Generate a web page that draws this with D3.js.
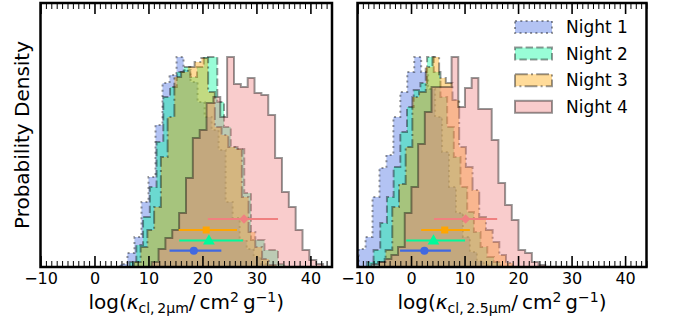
<!DOCTYPE html>
<html><head><meta charset="utf-8">
<script src="https://cdn.jsdelivr.net/npm/d3@7"></script>
<style>body{margin:0;background:#fff} text{font-family:"DejaVu Sans",sans-serif;fill:#000}</style>
</head><body><svg id="c" width="675" height="320"></svg>
<script>
// ---------------- data ----------------
const nights = ["Night 1", "Night 2", "Night 3", "Night 4"];
const fillColors = ["#4169e1", "#00fa9a", "#ffa500", "#f08080"];
const edgeDash = ["2,3.3", "7.4,3.2", "12.8,3.2,2,3.2", null];
const xTicks = [-10, 0, 10, 20, 30, 40];

// left panel: kappa at 2 micron  (bin start, bin width, densities)
const binStartL = [4.8, 6.5, 7.3, 10.6];
const binWidthL = [1.3, 1.25, 1.25, 1.27];
const densN1L = [0.015,0.07,0.15,0.325,0.45,0.71,0.92,0.96,1.05,0.985,0.925,0.825,0.75,0.685,0.585,0.325,0.245,0.135,0.09,0.05,0.015];
const densN2L = [0.025,0.11,0.25,0.4,0.625,0.85,0.9,0.975,1.0,0.95,1.0,1.05,1.05,0.825,0.7,0.6,0.59,0.37,0.135,0.135,0.085,0.085,0.015];
const densN3L = [0.025,0.1,0.185,0.3,0.55,0.75,0.95,0.975,1.0,1.025,1.045,0.875,0.7,0.66,0.6,0.59,0.35,0.175,0.1,0.04,0.01];
const densN4L = [0.025,0.09,0.145,0.185,0.27,0.445,0.645,0.685,0.82,0.85,0.75,1.05,0.915,0.9,0.945,0.87,0.86,0.76,0.545,0.375,0.3,0.185,0.085,0.035,0.015];

// right panel: kappa at 2.5 micron
const binStartR = [-9.8, -8.25, -6.0, -7.42];
const binWidthR = [1.3, 1.25, 1.25, 1.25];
const densN1R = [0.09,0.15,0.35,0.495,0.56,0.75,0.875,0.975,1.05,0.975,0.89,0.75,0.575,0.4,0.27,0.15,0.075,0.03,0.01];
const densN2R = [0.025,0.085,0.22,0.35,0.5,0.675,0.8,0.885,0.92,1.05,0.975,0.85,0.7,0.55,0.4,0.275,0.175,0.1,0.05,0.025];
const densN3R = [0.025,0.085,0.3,0.415,0.6,0.85,0.875,1.0,1.05,0.945,0.92,0.835,0.6,0.5,0.385,0.25,0.185,0.125,0.06,0.02];
const densN4R = [0.015,0.025,0.04,0.06,0.1,0.27,0.4,0.615,0.775,0.9,0.9,0.9,1.05,0.8,0.895,0.945,0.79,0.79,0.635,0.42,0.31,0.235,0.085,0.07,0.025,0.01];

// median and 16/84 percentile summaries
const medianL = [18.4, 21.2, 20.7, 27.7];
const lowL = [13.9, 15.7, 15.6, 21.0];
const highL = [23.5, 27.5, 26.4, 34.0];
const medianR = [2.5, 4.2, 6.3, 10.2];
const lowR = [-2.05, -0.9, 1.9, 4.3];
const highR = [7.45, 10.1, 11.0, 16.1];
const errLevel = [0.0815, 0.1325, 0.185, 0.24];
const markerTypes = [d3.symbolCircle, d3.symbolTriangle, d3.symbolSquare, d3.symbolSquare];

// ---------------- drawing ----------------
const svg = d3.select("#c");
const yTop = 3, yBottom = 267;
const y = d3.scaleLinear().domain([0, 1.32]).range([yBottom, yTop]);

const panels = [
  {x0: 40.5, x1: 332, starts: binStartL, widths: binWidthL, dens: [densN1L, densN2L, densN3L, densN4L],
   med: medianL, lo: lowL, hi: highL, sub: "cl,\u20092\u03bcm", legend: false, id: "L"},
  {x0: 357.5, x1: 646.5, starts: binStartR, widths: binWidthR, dens: [densN1R, densN2R, densN3R, densN4R],
   med: medianR, lo: lowR, hi: highR, sub: "cl,\u20092.5\u03bcm", legend: true, id: "R"}
];

panels.forEach(p => {
  const x = d3.scaleLinear().domain([-10, 44]).range([p.x0, p.x1]);
  svg.append("clipPath").attr("id", "clip" + p.id)
    .append("rect").attr("x", p.x0).attr("y", yTop).attr("width", p.x1 - p.x0).attr("height", yBottom - yTop);
  const g = svg.append("g").attr("clip-path", `url(#clip${p.id})`);
  const line = d3.line().x(d => x(d[0])).y(d => y(d[1]));

  p.dens.forEach((dens, i) => {
    const s = p.starts[i], w = p.widths[i];
    const pts = [[s, 0]];
    dens.forEach((v, k) => { pts.push([s + k * w, v]); pts.push([s + (k + 1) * w, v]); });
    pts.push([s + dens.length * w, 0]);
    g.append("path").attr("d", line(pts) + "Z")
      .attr("fill", fillColors[i]).attr("fill-opacity", 0.4)
      .attr("stroke", "#000").attr("stroke-opacity", 0.4).attr("stroke-width", 2)
      .attr("stroke-dasharray", edgeDash[i]).attr("stroke-linejoin", "miter");
  });

  // error bars
  const sizes = [52, 60, 50, 44];
  nights.forEach((n, i) => {
    g.append("line").attr("x1", x(p.lo[i])).attr("x2", x(p.hi[i]))
      .attr("y1", y(errLevel[i])).attr("y2", y(errLevel[i]))
      .attr("stroke", fillColors[i]).attr("stroke-width", 2.2);
    g.append("path").attr("d", d3.symbol().type(markerTypes[i]).size(sizes[i])())
      .attr("transform", `translate(${x(p.med[i])},${y(errLevel[i]) + (i === 1 ? 0.6 : 0)})` + (i === 3 ? " rotate(45)" : ""))
      .attr("fill", fillColors[i]);
  });

  // ticks
  const minor = d3.range(-10, 45, 1).filter(v => v % 10 !== 0);
  const axB = svg.append("g").attr("transform", `translate(0,${yBottom})`)
    .call(d3.axisBottom(x).tickValues(xTicks).tickSizeInner(-11).tickSizeOuter(0).tickPadding(6)
      .tickFormat(d => d < 0 ? "\u2212" + Math.abs(d) : d));
  axB.selectAll("text").style("font-size", "16px").style("font-family", "DejaVu Sans");
  axB.selectAll(".tick line").attr("stroke-width", 1.6);
  svg.append("g").attr("transform", `translate(0,${yBottom})`)
    .call(d3.axisBottom(x).tickValues(minor).tickSizeInner(-6).tickSizeOuter(0).tickFormat(""));
  svg.append("g").attr("transform", `translate(0,${yTop})`)
    .call(d3.axisTop(x).tickValues(xTicks).tickSizeInner(-11).tickSizeOuter(0).tickFormat(""))
    .selectAll(".tick line").attr("stroke-width", 1.6);
  svg.append("g").attr("transform", `translate(0,${yTop})`)
    .call(d3.axisTop(x).tickValues(minor).tickSizeInner(-6).tickSizeOuter(0).tickFormat(""));
  svg.selectAll(".domain").remove();
  svg.selectAll(".tick line").attr("stroke", "#000");

  // frame
  svg.append("rect").attr("x", p.x0).attr("y", yTop).attr("width", p.x1 - p.x0).attr("height", yBottom - yTop)
    .attr("fill", "none").attr("stroke", "#000").attr("stroke-width", 2.5);

  // x label
  const cx = (p.x0 + p.x1) / 2;
  const t = svg.append("text").attr("x", cx).attr("y", 309).attr("text-anchor", "middle").style("font-size", "20px");
  t.append("tspan").text("log(");
  t.append("tspan").style("font-style", "italic").text("\u03ba");
  t.append("tspan").attr("dy", 4).style("font-size", "14px").text(p.sub);
  t.append("tspan").attr("dy", -4).text("/\u2009cm");
  t.append("tspan").attr("dy", -7).style("font-size", "14px").text("2");
  t.append("tspan").attr("dy", 7).text("\u2009g");
  t.append("tspan").attr("dy", -7).style("font-size", "14px").text("\u22121");
  t.append("tspan").attr("dy", 7).text(")");

  if (p.legend) {
    nights.forEach((n, i) => {
      const cy = 27 + i * 26.6;
      svg.append("rect").attr("x", 515).attr("y", cy - 6).attr("width", 37).attr("height", 12)
        .attr("fill", fillColors[i]).attr("fill-opacity", 0.4)
        .attr("stroke", "#000").attr("stroke-opacity", 0.4).attr("stroke-width", 2)
        .attr("stroke-dasharray", edgeDash[i]);
      svg.append("text").attr("x", 566).attr("y", cy).attr("dy", "0.36em").style("font-size", "17px").text(n);
    });
  }
});

svg.append("text").attr("transform", "translate(29,135) rotate(-90)").attr("text-anchor", "middle")
  .style("font-size", "20px").text("Probability Density");
</script></body></html>
